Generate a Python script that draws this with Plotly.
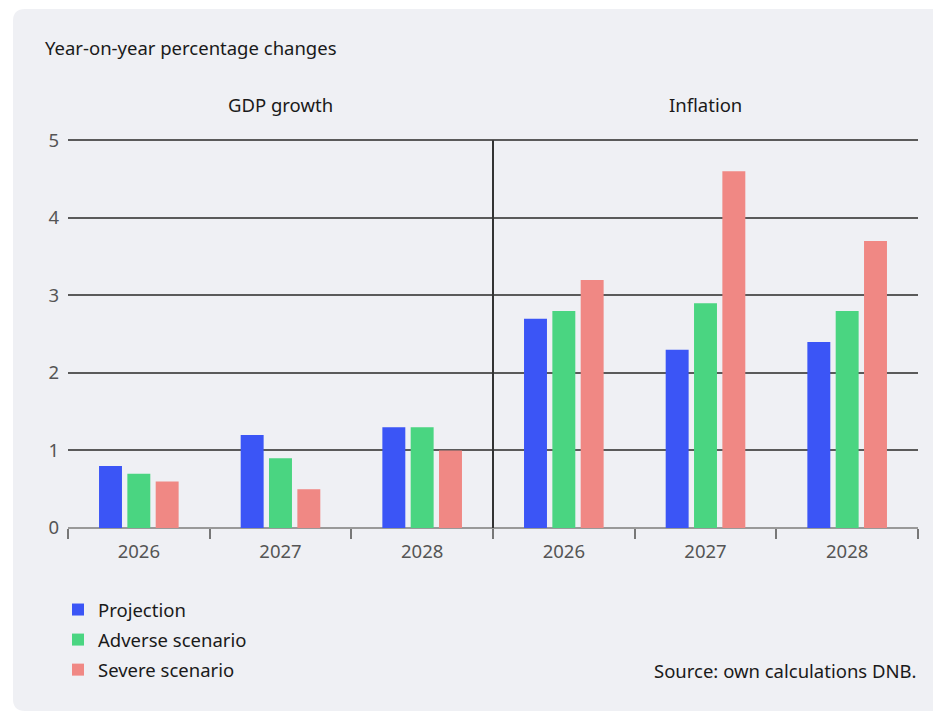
import plotly.graph_objects as go

# ---- data ----
panels = ["GDP growth", "Inflation"]
years = ["2026", "2027", "2028"]
series_names = ["Projection", "Adverse scenario", "Severe scenario"]
projection = [0.8, 1.2, 1.3, 2.7, 2.3, 2.4]
adverse = [0.7, 0.9, 1.3, 2.8, 2.9, 2.8]
severe = [0.6, 0.5, 1.0, 3.2, 4.6, 3.7]
y_ticks = [0, 1, 2, 3, 4, 5]

colors = ["#3b55f6", "#4ad581", "#f08884"]
categories = [f"{p} {y}" for p in panels for y in years]
tick_text = [y for p in panels for y in years]

W, H = 933, 712
L, R, T, B = 68, 15, 138, 184
pw, ph = W - L - R, H - T - B


def px_x(v):
    return (v - L) / pw


def px_y(v):
    return (H - B - v) / ph


FONT = "Noto Sans"
FS = 18.5

fig = go.Figure()
for name, vals, col in zip(series_names, [projection, adverse, severe], colors):
    fig.add_trace(go.Bar(x=categories, y=vals, name=name, legendgroup=name,
                         marker=dict(color=col, line=dict(width=0))))

# background panel with rounded left corners
x0, x1 = px_x(13), px_x(945)
y0, y1 = px_y(711), px_y(9)
rx, ry = 12 / pw, 12 / ph
path = (f"M{x0+rx},{y1} L{x1},{y1} L{x1},{y0} L{x0+rx},{y0} "
        f"Q{x0},{y0} {x0},{y0+ry} L{x0},{y1-ry} Q{x0},{y1} {x0+rx},{y1} Z")
fig.add_shape(type="path", path=path, xref="paper", yref="paper",
              fillcolor="#eff0f4", line=dict(width=0), layer="below")

# divider between panels
fig.add_shape(type="line", xref="x", yref="y", x0=2.5, x1=2.5, y0=0, y1=y_ticks[-1],
              line=dict(color="#333333", width=2), layer="above")

fig.add_annotation(text="Year-on-year percentage changes", xref="paper", yref="paper",
                   x=px_x(43), y=px_y(48), xanchor="left", yanchor="middle",
                   showarrow=False, font=dict(size=FS, color="#1a1a1a", family=FONT))
for i, p in enumerate(panels):
    fig.add_annotation(text=p, xref="paper", yref="paper", x=0.25 + 0.5 * i, y=px_y(104),
                       xanchor="center", yanchor="middle", showarrow=False,
                       font=dict(size=FS, color="#1a1a1a", family=FONT))
fig.add_annotation(text="Source: own calculations DNB.", xref="paper", yref="paper",
                   x=px_x(918), y=px_y(670), xanchor="right", yanchor="middle",
                   showarrow=False, font=dict(size=FS, color="#1a1a1a", family=FONT))

fig.update_layout(
    width=W, height=H, autosize=False,
    margin=dict(l=L, r=R, t=T, b=B),
    paper_bgcolor="white", plot_bgcolor="rgba(0,0,0,0)",
    font=dict(family=FONT, size=FS, color="#555555"),
    barmode="group", bargap=0.4, bargroupgap=0.19,
    showlegend=True,
    legend=dict(x=px_x(58), y=px_y(591), xanchor="left", yanchor="top",
                orientation="v", bgcolor="rgba(0,0,0,0)",
                font=dict(size=FS, color="#1a1a1a", family=FONT),
                tracegroupgap=3, itemclick=False),
)
fig.update_xaxes(type="category", categoryorder="array", categoryarray=categories,
                 tickvals=categories, ticktext=tick_text, tickson="boundaries",
                 ticks="outside", ticklen=10, tickcolor="#777777", tickwidth=1.5,
                 ticklabelstandoff=10,
                 showgrid=False, showline=False, zeroline=False,
                 tickfont=dict(size=FS, color="#555555"))
fig.update_yaxes(range=[0, 5.03], tickvals=y_ticks, showgrid=True, gridcolor="#5a5a5a",
                 gridwidth=1.5, zeroline=True, zerolinecolor="#999999", zerolinewidth=2,
                 showline=False, ticks="", ticklabelstandoff=8,
                 tickfont=dict(size=FS, color="#555555"), fixedrange=True)

fig.write_html("out.html", config={"displayModeBar": False},
               post_script="document.body.style.margin='0';document.body.style.overflow='hidden';")
